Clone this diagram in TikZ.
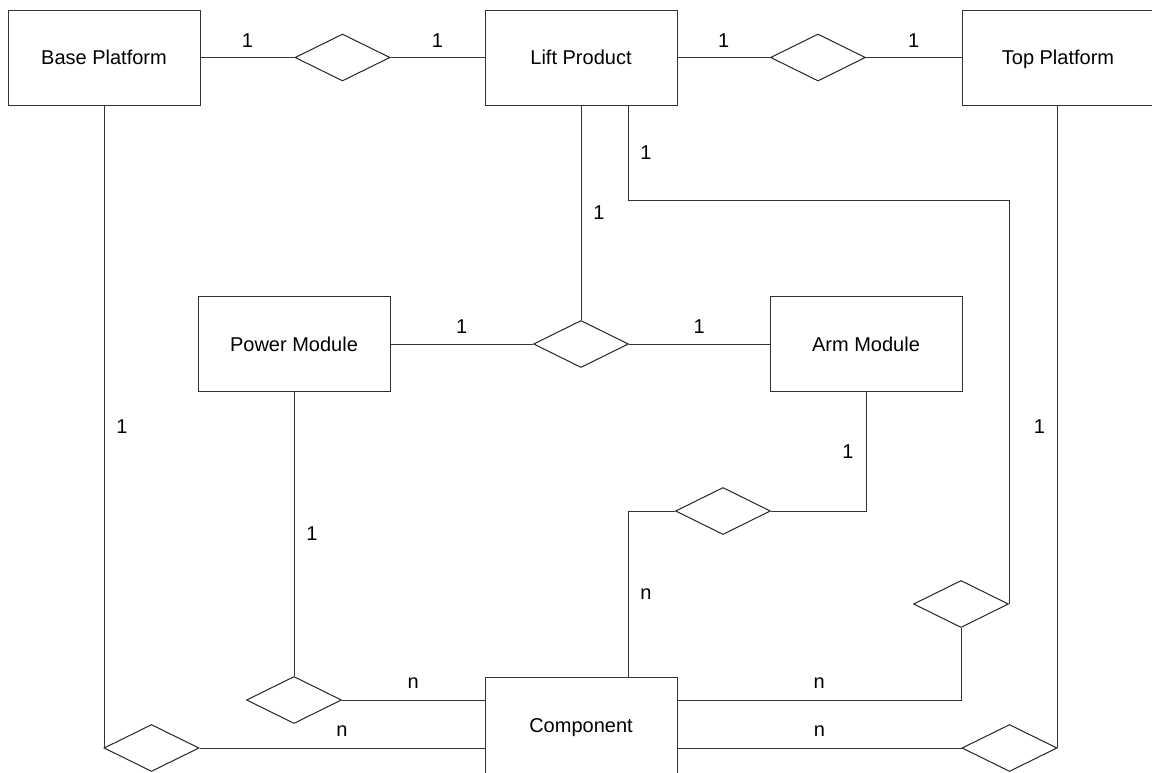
\documentclass[tikz,border=0pt]{standalone}
\usepackage{fontspec}
\setmainfont{Liberation Sans}
\usetikzlibrary{shapes.geometric,calc}
\tikzset{
  ent/.style={draw=black!80, line width=1pt, fill=white, rectangle, inner sep=0pt,
    minimum width=192pt, minimum height=95pt, text height=18pt, text depth=3.6pt,
    font=\fontsize{20}{24}\selectfont},
  rel/.style={draw=black!85, line width=1pt, fill=white, diamond, inner sep=0pt,
    minimum width=95pt, minimum height=47pt},
  conn/.style={draw=black!80, line width=1pt},
  lbl/.style={font=\fontsize{20}{24}\selectfont, inner sep=0pt},
  lblA/.style={lbl, yshift=17pt},
  lblR/.style={lbl, xshift=18pt},
  lblL/.style={lbl, xshift=-18pt}
}
\begin{document}
\begin{tikzpicture}[x=1pt, y=-1pt]
\useasboundingbox (0,0) rectangle (1152,772);
\clip (0,0) rectangle (1152,772);
\fill[white] (0,0) rectangle (1152,772);

\coordinate (c1) at (628,200);

% entities
\node[ent] (bp) at (104,57.5) {Base Platform};
\node[ent] (lp) at (581,57.5) {Lift Product};
\node[ent] (tp) at (1058,57.5) {Top Platform};
\node[ent] (pm) at (294,344) {Power Module};
\node[ent] (am) at (866,344) {Arm Module};
\node[ent, minimum height=97pt] (cp) at (581,725.5) {Component};

% relationships
\node[rel] (d1) at (342.5,57.5) {};
\node[rel] (d2) at (818,57.5) {};
\node[rel] (d3) at (581,344) {};
\node[rel] (d4) at (723,511) {};
\node[rel] (d5) at (961,604) {};
\node[rel] (d6) at (294,700) {};
\node[rel] (d7) at (151.5,748) {};
\node[rel] (d8) at (1009.5,748) {};

% top row
\draw[conn] (bp.east) -- (d1.west) node[midway, lblA] {1};
\draw[conn] (d1.east) -- (lp.west) node[midway, lblA] {1};
\draw[conn] (lp.east) -- (d2.west) node[midway, lblA] {1};
\draw[conn] (d2.east) -- (tp.west) node[midway, lblA] {1};

% lift product down
\draw[conn] (lp.south) -- (d3.north) node[midway, lblR] {1};
\coordinate (c2) at (d5.east |- c1);
\draw[conn] (lp.south -| c1) -- (c1) node[midway, lblR] {1} -- (c2) -- (d5.east);

% middle row
\draw[conn] (pm.east) -- (d3.west) node[midway, lblA] {1};
\draw[conn] (d3.east) -- (am.west) node[midway, lblA] {1};

% arm module to component
\draw[conn] (am.south) |- (d4.east) node[pos=0.25, lblL] {1};
\coordinate (c3) at (cp.north -| c1);
\draw[conn] (d4.west) -| (c3) node[pos=0.75, lblR] {n};

% power module to component
\draw[conn] (pm.south) -- (d6.north) node[midway, lblR] {1};
\draw[conn] (d6.east) -- (d6.east -| cp.west) node[midway, lblA] {n};

% base platform to component
\draw[conn] (bp.south) -- (bp.south |- d7.west) node[midway, lblR] {1};
\draw[conn] (d7.east) -- (d7.east -| cp.west) node[midway, lblA] {n};

% component to lift product relation
\coordinate (c4) at (cp.east |- d6.east);
\draw[conn] (c4) -| (d5.south) node[pos=0.25, lblA] {n};

% component to top platform
\coordinate (c5) at (cp.east |- d8.west);
\draw[conn] (c5) -- (d8.west) node[midway, lblA] {n};
\draw[conn] (d8.east) -- (d8.east |- tp.south) node[midway, lblL] {1};
\end{tikzpicture}
\end{document}
